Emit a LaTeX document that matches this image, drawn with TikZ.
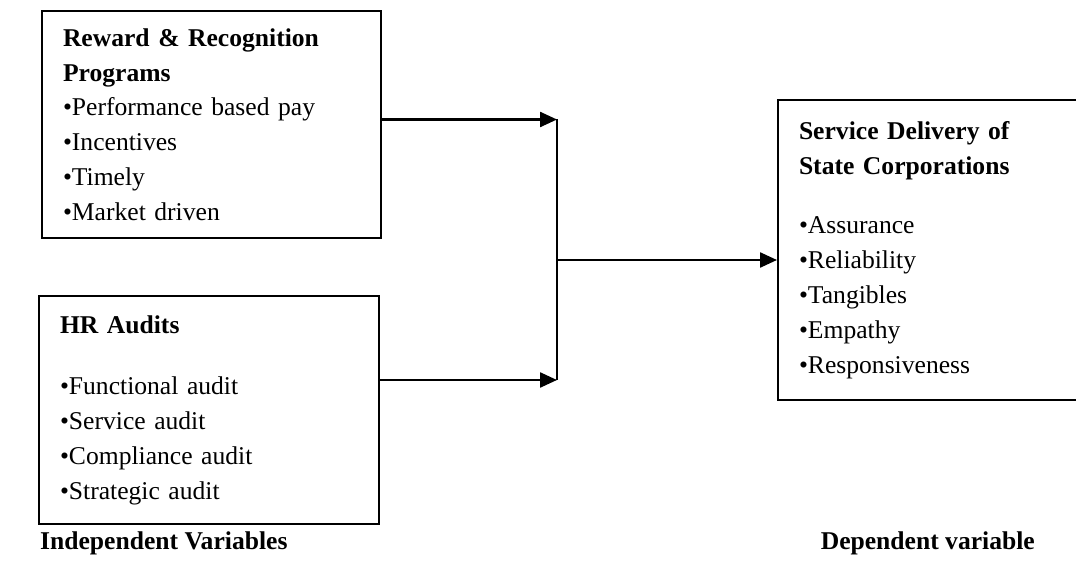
\documentclass[tikz,border=0pt]{standalone}
\usepackage{fontspec}
\setmainfont{Liberation Serif}
\usetikzlibrary{arrows.meta}
\usetikzlibrary{calc}
\usetikzlibrary{positioning}

\begin{document}
\begin{tikzpicture}[x=1pt, y=-1pt, >={Triangle[length=17pt,width=15pt]}]
    \fontsize{25.6}{34.8}\selectfont

    % TikZ styles for drawing %%%%%%%%%%%%%%%%%%%%%%%%%%%%%%%%%%%%%%%%%%%%%%%%%%%%%%
    \tikzstyle{block} = [draw,rectangle,line width=2pt,anchor=north west,inner xsep=21pt,align=left]
    \tikzstyle{caption} = [inner sep=0pt,font=\bfseries]
    \tikzstyle{connector} = [->,line width=2.4pt]
    \tikzstyle{line} = [line width=2.4pt]

    \useasboundingbox (0,0) rectangle (1076,561);

    % Boxes %%%%%%%%%%%%%%%%%%%%%%%%%%%%%%%%%%%%%%%%%%%%%%%%%%%%%%%%%%%%%%%%%%%%%%%%%%%
    \node[block, minimum width=339pt, minimum height=227pt, text width=297pt] (reward) at (41,10)
      {\textbf{Reward \& Recognition Programs}\\
       •Performance based pay\\
       •Incentives\\
       •Timely\\
       •Market driven};
    \node[block, minimum width=340pt, minimum height=228pt, text width=298pt] (audits) at (38,295)
      {\textbf{HR Audits}\\[27pt]
       •Functional audit\\
       •Service audit\\
       •Compliance audit\\
       •Strategic audit};
    \node[block, minimum width=303pt, minimum height=300pt, text width=261pt] (service) at (777,99)
      {\textbf{Service Delivery of}\\
       \textbf{State Corporations}\\[25pt]
       •Assurance\\
       •Reliability\\
       •Tangibles\\
       •Empathy\\
       •Responsiveness};

    % Captions %%%%%%%%%%%%%%%%%%%%%%%%%%%%%%%%%%%%%%%%%%%%%%%%%%%%%%%%%%%%%%%%%%%%%%%%
    \node[caption, anchor=west] (indep) at (40,543) {Independent Variables};
    \node[caption, anchor=east] (dep) at (1035,543) {Dependent variable};

    % Now link the nodes %%%%%%%%%%%%%%%%%%%%%%%%%%%%%%%%%%%%%%%%%%%%%%%%%%%%%%%%%%%%%%%%
    \coordinate (merge) at (557,260);
    \coordinate (rout) at ([yshift=5pt]reward.east);
    \coordinate (aout) at ([yshift=30pt]audits.east);
    \draw [connector] (rout) -- (rout -| merge);
    \draw [connector] (aout) -- (aout -| merge);
    \draw [line]      (rout -| merge) -- (aout -| merge);
    \draw [connector] (merge) -- (merge -| service.west);

\end{tikzpicture}
\end{document}
